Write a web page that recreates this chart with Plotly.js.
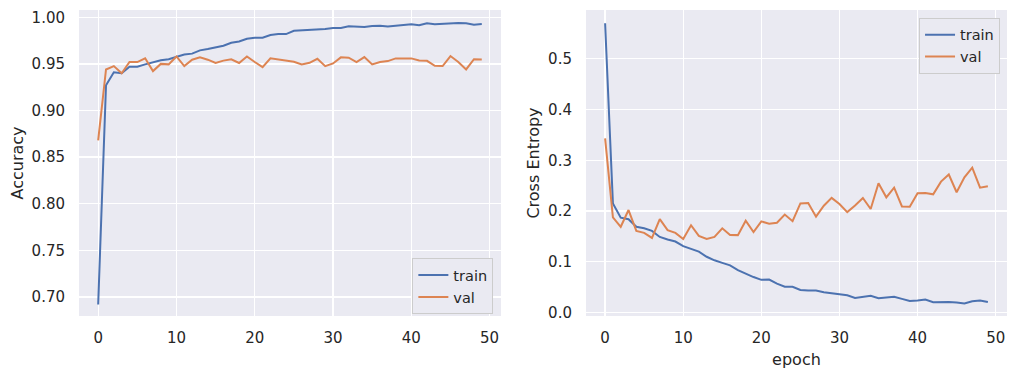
<!DOCTYPE html>
<html>
<head>
<meta charset="utf-8">
<script src="https://cdn.plot.ly/plotly-3.0.1.min.js"></script>
<style>html,body{margin:0;padding:0;background:#fff;}#chart{width:1017px;height:376px;}</style>
</head>
<body>
<div id="chart"></div>
<script>
const epochs = Array.from({length: 50}, (_, i) => i);

const trainAcc = [0.692, 0.927, 0.941, 0.940, 0.947, 0.947, 0.9495, 0.952, 0.954, 0.955,
  0.9577, 0.960, 0.961, 0.9645, 0.966, 0.9675, 0.9695, 0.9727, 0.974, 0.977,
  0.978, 0.978, 0.981, 0.982, 0.982, 0.9855, 0.986, 0.986, 0.9867, 0.9874,
  0.9885, 0.9885, 0.9903, 0.9896, 0.9896, 0.9907, 0.991, 0.990, 0.991, 0.9917,
  0.9924, 0.9914, 0.9935, 0.9924, 0.993, 0.9938, 0.9938, 0.9935, 0.992, 0.9928];

const valAcc = [0.868, 0.944, 0.9476, 0.940, 0.952, 0.952, 0.956, 0.9423, 0.950, 0.9495,
  0.958, 0.9476, 0.9545, 0.957, 0.9545, 0.951, 0.9535, 0.955, 0.951, 0.958,
  0.952, 0.9465, 0.956, 0.955, 0.954, 0.9523, 0.9494, 0.9512, 0.9555, 0.9476,
  0.9505, 0.957, 0.9566, 0.952, 0.9573, 0.9494, 0.952, 0.953, 0.9559, 0.9559,
  0.9559, 0.9537, 0.9533, 0.948, 0.9477, 0.9584, 0.952, 0.944, 0.955, 0.9547];

const trainLoss = [0.570, 0.215, 0.187, 0.184, 0.169, 0.166, 0.161, 0.149, 0.144, 0.140,
  0.131, 0.125, 0.120, 0.110, 0.103, 0.098, 0.093, 0.0835, 0.076, 0.070,
  0.0645, 0.065, 0.057, 0.051, 0.051, 0.0447, 0.0434, 0.0434, 0.040, 0.038,
  0.035, 0.034, 0.029, 0.031, 0.033, 0.0283, 0.0296, 0.031, 0.027, 0.023,
  0.0237, 0.0257, 0.0204, 0.021, 0.021, 0.0197, 0.0178, 0.0224, 0.0237, 0.021];

const valLoss = [0.343, 0.1875, 0.169, 0.202, 0.161, 0.157, 0.147, 0.184, 0.1625, 0.157,
  0.145, 0.172, 0.151, 0.145, 0.149, 0.166, 0.153, 0.1526, 0.181, 0.1585,
  0.1796, 0.175, 0.177, 0.193, 0.180, 0.215, 0.216, 0.189, 0.2105, 0.226,
  0.214, 0.198, 0.211, 0.2257, 0.204, 0.2546, 0.227, 0.246, 0.209, 0.2086,
  0.235, 0.2355, 0.233, 0.258, 0.272, 0.237, 0.2665, 0.2855, 0.246, 0.249];

const xTicks = [0, 10, 20, 30, 40, 50];
const seriesNames = ['train', 'val'];

const BLUE = '#4c72b0', ORANGE = '#dd8452', TXT = '#262626', BG = '#eaeaf2';
const FONT = 'DejaVu Sans, sans-serif';

const line = c => ({color: c, width: 2});
const traces = [
  {x: epochs, y: trainAcc, name: seriesNames[0], type: 'scatter', mode: 'lines', line: line(BLUE), xaxis: 'x', yaxis: 'y', legend: 'legend'},
  {x: epochs, y: valAcc, name: seriesNames[1], type: 'scatter', mode: 'lines', line: line(ORANGE), xaxis: 'x', yaxis: 'y', legend: 'legend'},
  {x: epochs, y: trainLoss, name: seriesNames[0], type: 'scatter', mode: 'lines', line: line(BLUE), xaxis: 'x2', yaxis: 'y2', legend: 'legend2'},
  {x: epochs, y: valLoss, name: seriesNames[1], type: 'scatter', mode: 'lines', line: line(ORANGE), xaxis: 'x2', yaxis: 'y2', legend: 'legend2'}
];

const axBase = {
  showgrid: true, gridcolor: '#ffffff', gridwidth: 1.3, zeroline: false, showline: false,
  ticks: '', tickfont: {family: FONT, size: 15, color: TXT}, automargin: false
};

const legBase = {
  bgcolor: BG, bordercolor: '#cccccc', borderwidth: 1,
  font: {family: FONT, size: 14.5, color: TXT}, tracegroupgap: 0, itemwidth: 30
};

const layout = {
  width: 1017, height: 376,
  margin: {l: 79, r: 10, t: 10, b: 60, pad: 0},
  paper_bgcolor: '#ffffff', plot_bgcolor: BG,
  font: {family: FONT, color: TXT},
  xaxis: Object.assign({}, axBase, {domain: [0, 0.4547], range: [-2.45, 51.45], tickvals: xTicks, anchor: 'y', ticklabelstandoff: 11}),
  yaxis: Object.assign({}, axBase, {domain: [0, 1], range: [0.6796, 1.0078], dtick: 0.05, tickformat: '.2f', anchor: 'x', ticklabelstandoff: 13,
    title: {text: 'Accuracy', font: {family: FONT, size: 16, color: TXT}, standoff: 3}}),
  xaxis2: Object.assign({}, axBase, {domain: [0.5463, 1], range: [-2.45, 51.45], tickvals: xTicks, anchor: 'y2', ticklabelstandoff: 11,
    title: {text: 'epoch', font: {family: FONT, size: 16, color: TXT}, standoff: 7}}),
  yaxis2: Object.assign({}, axBase, {domain: [0, 1], range: [-0.0067, 0.596], dtick: 0.1, tickformat: '.1f', anchor: 'x2', ticklabelstandoff: 13,
    title: {text: 'Cross Entropy', font: {family: FONT, size: 16, color: TXT}, standoff: 4}}),
  legend: Object.assign({}, legBase, {x: 0.4465, xanchor: 'right', y: 0.006, yanchor: 'bottom'}),
  legend2: Object.assign({}, legBase, {x: 0.9925, xanchor: 'right', y: 0.9748, yanchor: 'top'}),
  showlegend: true
};

Plotly.newPlot('chart', traces, layout, {displayModeBar: false, staticPlot: true});
</script>
</body>
</html>
